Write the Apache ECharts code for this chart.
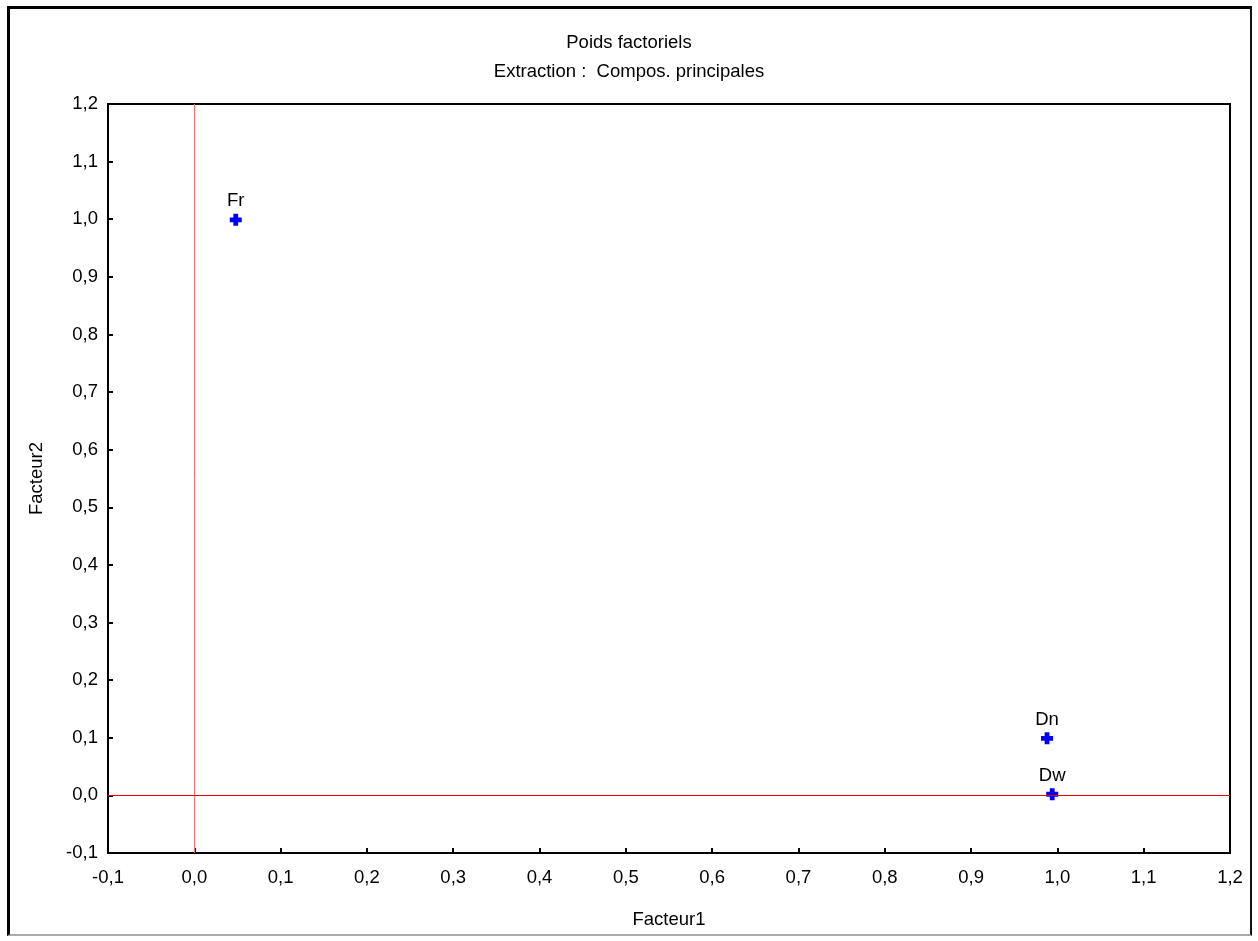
<!DOCTYPE html>
<html>
<head>
<meta charset="utf-8">
<script src="https://cdn.jsdelivr.net/npm/echarts@6/dist/echarts.min.js"></script>
<style>
html,body{margin:0;padding:0;background:#fff;}
#frame{position:absolute;left:7px;top:6px;width:1245px;height:930px;border-left:3px solid #000;border-top:3px solid #000;border-right:2px solid #111;border-bottom:2px solid #aaa;box-sizing:border-box;}
#c{position:absolute;left:0;top:0;width:1258px;height:941px;}
</style>
</head>
<body>
<div id="frame"></div>
<div id="c"></div>
<script>
const names = ['Fr', 'Dn', 'Dw'];
const facteur1 = [0.048, 0.988, 0.994];
const facteur2 = [0.999, 0.099, 0.002];
const xTickLabels = ['-0,1','0,0','0,1','0,2','0,3','0,4','0,5','0,6','0,7','0,8','0,9','1,0','1,1','1,2'];
const yTickLabels = ['-0,1','0,0','0,1','0,2','0,3','0,4','0,5','0,6','0,7','0,8','0,9','1,0','1,1','1,2'];

function fmt(labels){
  return function(v){ const i = Math.round((v + 0.1) * 10); return labels[i] !== undefined ? labels[i] : ''; };
}

const chart = echarts.init(document.getElementById('c'), null, {renderer:'canvas'});
const font = '"Liberation Sans", Arial, sans-serif';
const fs = 18.5;
chart.setOption({
  backgroundColor: 'transparent',
  animation: false,
  title: [
    {text:'Poids factoriels', left:'center', top:28, textStyle:{fontFamily:font, fontSize:fs, fontWeight:'normal', color:'#000'}},
    {text:'Extraction :  Compos. principales', left:'center', top:57, textStyle:{fontFamily:font, fontSize:fs, fontWeight:'normal', color:'#000'}}
  ],
  grid: {left:108, right:28, top:104, bottom:88, show:true, borderColor:'#000', borderWidth:2, backgroundColor:'transparent'},
  xAxis: {
    type:'value', min:-0.1, max:1.2, interval:0.1,
    name:'Facteur1', nameLocation:'middle', nameGap:57,
    nameTextStyle:{fontFamily:font, fontSize:fs, color:'#000'},
    axisLine:{show:true, onZero:false, lineStyle:{color:'#000', width:2}},
    axisTick:{show:true, inside:true, length:5, lineStyle:{color:'#000', width:2}},
    axisLabel:{fontFamily:font, fontSize:fs, color:'#000', margin:15, formatter:fmt(xTickLabels)},
    splitLine:{show:false}
  },
  yAxis: {
    type:'value', min:-0.1, max:1.2, interval:0.1,
    name:'Facteur2', nameLocation:'middle', nameGap:62, nameRotate:90,
    nameTextStyle:{fontFamily:font, fontSize:fs, color:'#000'},
    axisLine:{show:true, onZero:false, lineStyle:{color:'#000', width:2}},
    axisTick:{show:true, inside:true, length:5, lineStyle:{color:'#000', width:2}},
    axisLabel:{fontFamily:font, fontSize:fs, color:'#000', margin:10, formatter:fmt(yTickLabels)},
    splitLine:{show:false}
  },
  series: [
    {
      type:'scatter',
      data: names.map((n,i)=>({name:n, value:[facteur1[i], facteur2[i]]})),
      symbol:'path://M3,0H7V3H10V7H7V10H3V7H0V3H3Z',
      symbolSize:12,
      itemStyle:{color:'#0000ff', opacity:1},
      label:{show:true, position:'top', distance:3, formatter:'{b}', fontFamily:font, fontSize:fs, color:'#000'},
      markLine:{
        silent:true, symbol:['none','none'], label:{show:false},
        data:[
          {xAxis:0, lineStyle:{color:'#f07070', width:1, type:'solid', opacity:1}},
          {yAxis:0, lineStyle:{color:'#e00000', width:1.2, type:'solid', opacity:1}}
        ]
      },
      z:3
    }
  ]
});
</script>
</body>
</html>
